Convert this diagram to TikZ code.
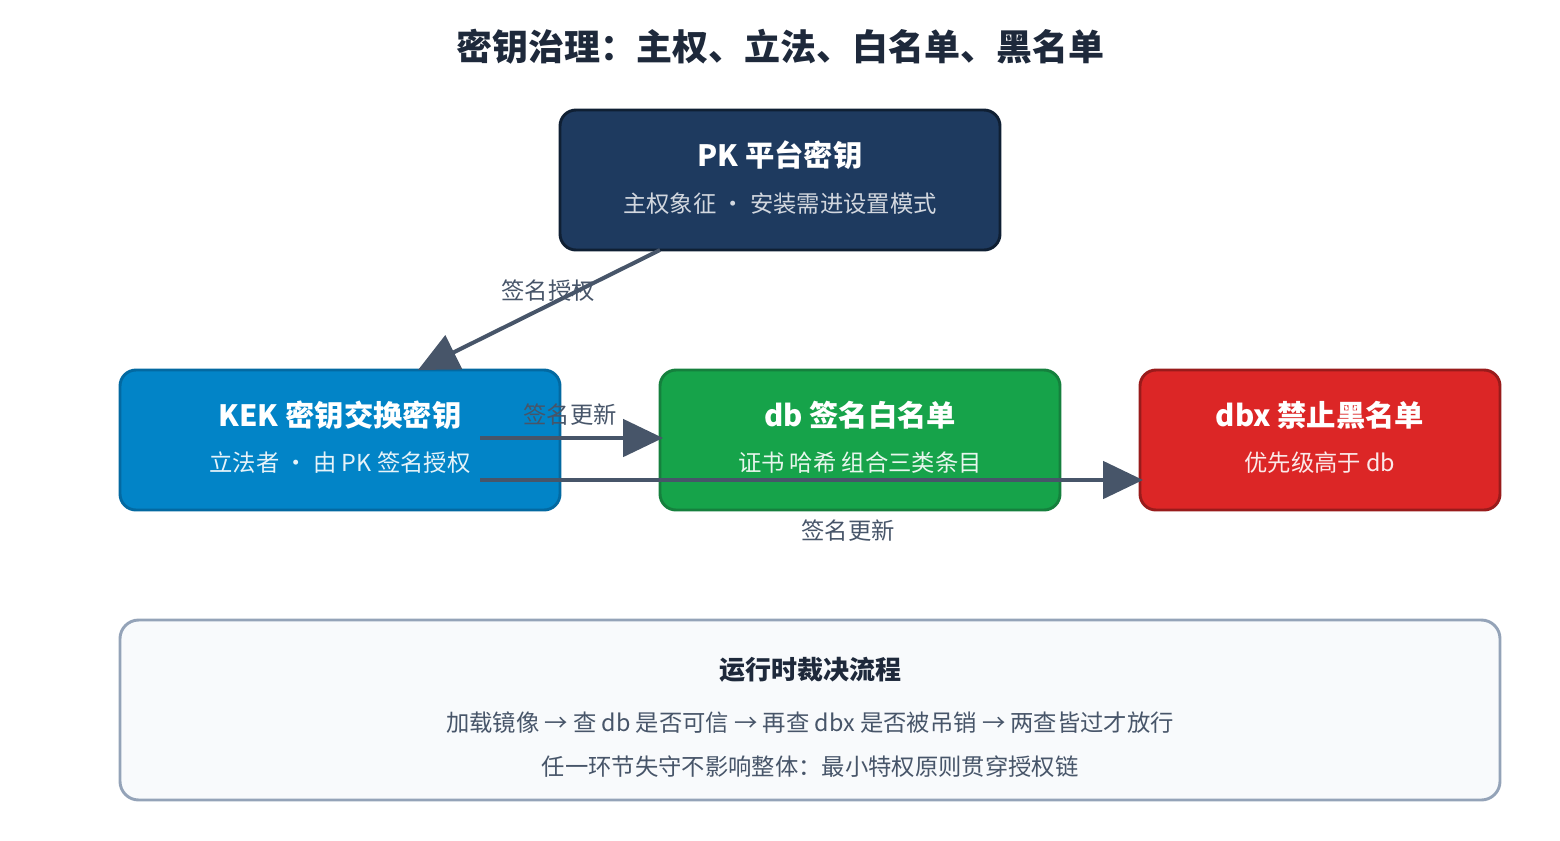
\documentclass[tikz,border=0pt]{standalone}
\usepackage{fontspec}
\setmainfont{Noto Sans CJK SC}
\usetikzlibrary{arrows.meta}
\definecolor{ttl}{HTML}{1E293B}
\definecolor{arr}{HTML}{475569}
\definecolor{pkf}{HTML}{1E3A5F}\definecolor{pkd}{HTML}{0F1F33}
\definecolor{kekf}{HTML}{0284C7}\definecolor{kekd}{HTML}{0369A1}
\definecolor{dbf}{HTML}{16A34A}\definecolor{dbd}{HTML}{15803D}
\definecolor{dbxf}{HTML}{DC2626}\definecolor{dbxd}{HTML}{991B1B}
\definecolor{bgf}{HTML}{F8FAFC}\definecolor{bgd}{HTML}{94A3B8}
\begin{document}
\begin{tikzpicture}[x=0.75pt,y=-0.75pt,
 box/.style={draw,line width=2.2pt,rounded corners=12pt},
 btitle/.style={text=white,font=\bfseries\fontsize{22}{26}\selectfont},
 bsub/.style={font=\fontsize{17.5}{21}\selectfont},
 lbl/.style={text=arr,font=\fontsize{17.5}{21}\selectfont},
 con/.style={draw=arr,line width=3pt,-{Triangle[length=30pt,width=28pt]}}]
\useasboundingbox (0,0) rectangle (1560,840);
\node[text=ttl,font=\bfseries\fontsize{27}{32}\selectfont] (title) at (780,47) {密钥治理：主权、立法、白名单、黑名单};
\draw[box,fill=pkf,draw=pkd] (560,110) rectangle (1000,250);
\node[btitle] (pkt) at (780,155) {PK 平台密钥};
\node[bsub,text=white!80!pkf] (pks) at (780,204) {主权象征 · 安装需进设置模式};
\draw[box,fill=kekf,draw=kekd] (120,370) rectangle (560,510);
\node[btitle] (kekt) at (340,415) {KEK 密钥交换密钥};
\node[bsub,text=white!90!kekf] (keks) at (340,463) {立法者 · 由 PK 签名授权};
\draw[box,fill=dbf,draw=dbd] (660,370) rectangle (1060,510);
\node[btitle] (dbt) at (860,415) {db 签名白名单};
\node[bsub,text=white!90!dbf] (dbs) at (860,463) {证书 哈希 组合三类条目};
\draw[box,fill=dbxf,draw=dbxd] (1140,370) rectangle (1500,510);
\node[btitle] (dbxt) at (1320,415) {dbx 禁止黑名单};
\node[bsub,text=white!90!dbxf] (dbxs) at (1320,463) {优先级高于 db};
\coordinate (pkA) at (660,250); \coordinate (kekA) at (418,370);
\coordinate (k1) at (480,438); \coordinate (d1) at (663,438);
\coordinate (k2) at (480,480); \coordinate (x2) at (1143,480);
\draw[con] (pkA) -- (kekA);
\draw[con] (k1) -- (d1);
\draw[con] (k2) -- (x2);
\node[lbl] (l1) at (548,291) {签名授权};
\node[lbl] (l2) at (570,415) {签名更新};
\node[lbl] (l3) at (848,531) {签名更新};
\draw[fill=bgf,draw=bgd,line width=2.2pt,rounded corners=14pt] (120,620) rectangle (1500,800);
\node[text=ttl,font=\bfseries\fontsize{19.5}{23}\selectfont] (bt) at (810,670) {运行时裁决流程};
\node[lbl] (b1) at (810,723) {加载镜像 → 查 db 是否可信 → 再查 dbx 是否被吊销 → 两查皆过才放行};
\node[lbl] (b2) at (810,767) {任一环节失守不影响整体：最小特权原则贯穿授权链};
\end{tikzpicture}
\end{document}
